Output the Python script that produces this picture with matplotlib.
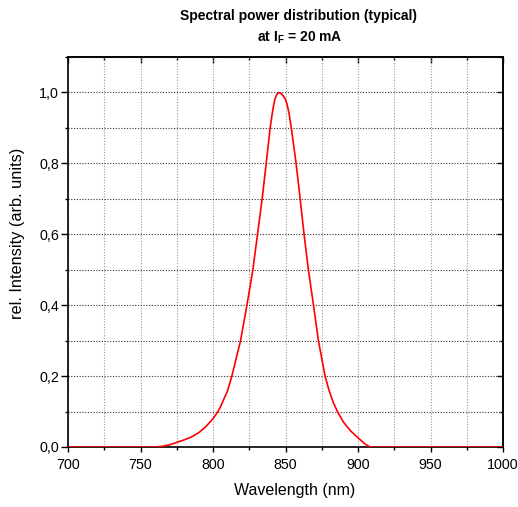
import matplotlib
matplotlib.use("Agg")
import matplotlib.pyplot as plt
from matplotlib.ticker import MultipleLocator, FuncFormatter

wavelength = [700, 760, 765, 770, 775, 780, 785, 790, 795, 800, 803.4, 805, 810,
              813, 816, 819, 823.4, 827.5, 830.7, 833.9, 836.7, 839.4, 841.2,
              842.5, 844, 845.7, 847, 848.5, 850, 851, 852.5, 854, 857.3, 860.1,
              862.8, 865.8, 869.3, 872.7, 877.3, 880, 883, 885.8, 890, 895, 900,
              905, 908, 910, 1000]
intensity = [0, 0, 0.002, 0.006, 0.013, 0.020, 0.028, 0.040, 0.057, 0.080, 0.10,
             0.112, 0.158, 0.20, 0.25, 0.30, 0.40, 0.50, 0.60, 0.70, 0.80, 0.90,
             0.95, 0.978, 0.995, 1.0, 0.997, 0.99, 0.98, 0.968, 0.94, 0.90, 0.80,
             0.70, 0.60, 0.50, 0.40, 0.30, 0.20, 0.16, 0.125, 0.10, 0.07, 0.045,
             0.026, 0.008, 0.001, 0, 0]

title_line1 = "Spectral power distribution (typical)"
title_line2 = r"at I$_\mathregular{F}$ = 20 mA"
xlabel = "Wavelength (nm)"
ylabel = "rel. Intensity (arb. units)"

plt.rcParams['font.family'] = ['Liberation Sans', 'DejaVu Sans']
plt.rcParams['mathtext.fontset'] = 'custom'
plt.rcParams['mathtext.rm'] = 'Liberation Sans:bold'

fig = plt.figure(figsize=(5.18, 5.07), dpi=100)
ax = fig.add_axes([68/518, 1-447/507, (503-68)/518, (447-57)/507])

ax.plot(wavelength, intensity, color='#ff0000', lw=1.2, zorder=3)
ax.set_xlim(700, 1000)
ax.set_ylim(0, 1.1)

ax.xaxis.set_major_locator(MultipleLocator(50))
ax.xaxis.set_minor_locator(MultipleLocator(25))
ax.yaxis.set_major_locator(MultipleLocator(0.2))
ax.yaxis.set_minor_locator(MultipleLocator(0.1))
ax.yaxis.set_major_formatter(FuncFormatter(lambda v, p: f"{v:.1f}".replace('.', ',')))

ax.grid(True, which='both', axis='x', color='#999999', ls=(0, (1, 1.5)), lw=0.8)
ax.grid(True, which='both', axis='y', color='#333333', ls=(0, (1, 1.5)), lw=0.8)
ax.set_axisbelow(True)

ax.tick_params(axis='x', which='major', direction='out', length=3.5, width=1,
               labelsize=10.3, top=False, pad=4.5)
ax.tick_params(axis='y', which='major', direction='out', length=5, width=1,
               labelsize=10.3, right=False, pad=1.5)
ax.tick_params(which='minor', direction='out', length=2.5, width=1, top=False, right=False)
for s in ax.spines.values():
    s.set_linewidth(1.2)

secx = ax.secondary_xaxis('top')
secx.xaxis.set_major_locator(MultipleLocator(50))
secx.xaxis.set_minor_locator(MultipleLocator(25))
secx.tick_params(which='major', direction='in', length=4, width=1, labeltop=False)
secx.tick_params(which='minor', direction='in', length=2.5, width=1)
secx.spines['top'].set_linewidth(1.2)
secy = ax.secondary_yaxis('right')
secy.yaxis.set_major_locator(MultipleLocator(0.2))
secy.yaxis.set_minor_locator(MultipleLocator(0.1))
secy.tick_params(which='major', direction='in', length=4, width=1, labelright=False)
secy.tick_params(which='minor', direction='in', length=2.5, width=1)
secy.spines['right'].set_linewidth(1.2)

fig.text(295/518, 1-491/507, xlabel, ha='center', va='center', fontsize=11.5)
fig.text(18/518, 1-233/507, ylabel, ha='center', va='center', fontsize=11.8,
         rotation=90)

fig.text(299/518, 1-16/507, title_line1, ha='center', va='center', fontsize=10,
         fontweight='bold')
fig.text(300/518, 1-38/507, title_line2, ha='center', va='center', fontsize=10,
         fontweight='bold')

fig.savefig("out.png", dpi=100)
